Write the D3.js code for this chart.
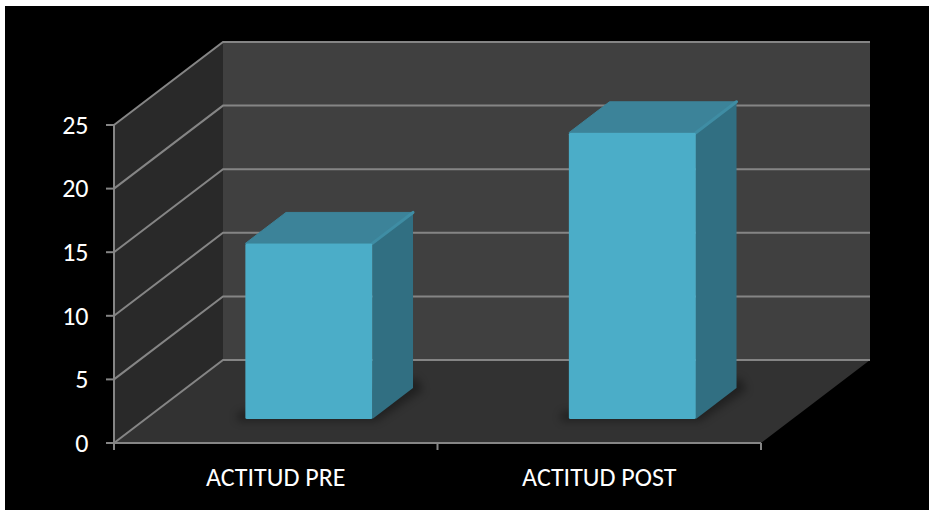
<!DOCTYPE html>
<html>
<head>
<meta charset="utf-8">
<script src="https://cdn.jsdelivr.net/npm/d3@7"></script>
<style>
  html, body { margin: 0; padding: 0; background: #fff; }
  svg { display: block; }
  text { font-family: Carlito, "Open Sans", "Noto Sans", sans-serif; fill: #fff; }
</style>
</head>
<body>
<script>
const categories = ["ACTITUD PRE", "ACTITUD POST"];
const values = [13.8, 22.5];
const yTicks = [0, 5, 10, 15, 20, 25];

const width = 929, height = 510;
const svg = d3.select("body").append("svg").attr("width", width).attr("height", height);

// Oblique projection: depth 0 is the front of the floor, depth 1 the back wall.
const skewX = 109, skewY = -83;
const project = (x, y, d) => [x + d * skewX, y + d * skewY];
const poly = pts => "M" + pts.map(p => p.join(",")).join("L") + "Z";

const x = d3.scaleBand().domain(categories).range([114, 761]);
const y = d3.scaleLinear().domain([0, 25]).range([443, 125]);
const barWidth = 127, barNudge = 1.5;
const barNear = 0.29, barFar = 0.663;

const defs = svg.append("defs");
defs.append("filter").attr("id", "floorShadow")
  .attr("x", "-20%").attr("y", "-20%").attr("width", "140%").attr("height", "140%")
  .append("feGaussianBlur").attr("stdDeviation", 4);

svg.append("rect").attr("x", 5).attr("y", 6).attr("width", width - 5).attr("height", height - 6).attr("fill", "#000");

const [x0, x1] = x.range();
const [y0, y25] = y.range();

// Walls and floor
svg.append("path").attr("fill", "#292929")
  .attr("d", poly([[x0, y0], [x0, y25], project(x0, y25, 1), project(x0, y0, 1)]));
svg.append("path").attr("fill", "#404040")
  .attr("d", poly([project(x0, y25, 1), project(x1, y25, 1), project(x1, y0, 1), project(x0, y0, 1)]));
svg.append("path").attr("fill", "#323232")
  .attr("d", poly([[x0, y0], [x1, y0], project(x1, y0, 1), project(x0, y0, 1)]));

// Gridlines run along the side wall, then across the back wall
const grid = svg.append("g").attr("fill", "none").attr("stroke", "#858585").attr("stroke-width", 2);
yTicks.forEach(t => {
  const a = [x0, y(t)], b = project(x0, y(t), 1), c = project(x1, y(t), 1);
  grid.append("path").attr("d", "M" + [a, b, c].map(p => p.join(",")).join("L"));
});

// Axis lines and tick marks
const axes = svg.append("g").attr("stroke", "#858585").attr("stroke-width", 2).attr("fill", "none");
axes.append("line").attr("x1", x0).attr("x2", x0).attr("y1", y25).attr("y2", y0 + 7);
axes.append("line").attr("x1", x0).attr("x2", x1).attr("y1", y0).attr("y2", y0);
yTicks.forEach(t => axes.append("line").attr("x1", x0 - 8).attr("x2", x0).attr("y1", y(t)).attr("y2", y(t)));
[x0, x0 + x.bandwidth(), x1].forEach(v => axes.append("line").attr("x1", v).attr("x2", v).attr("y1", y0).attr("y2", y0 + 7));

// Tick labels
svg.append("g").selectAll("text").data(yTicks).join("text")
  .attr("x", x0 - 25.5).attr("y", d => y(d)).attr("dy", "0.34em")
  .attr("text-anchor", "end").attr("font-size", 26).text(d => d);
svg.append("g").selectAll("text").data(categories).join("text")
  .attr("x", d => x(d) + x.bandwidth() / 2).attr("y", 486)
  .attr("text-anchor", "middle").attr("font-size", 26).text(d => d);

// Bars
const bars = svg.append("g");
categories.forEach((c, i) => {
  const left = x(c) + (x.bandwidth() - barWidth) / 2 + barNudge;
  const right = left + barWidth;
  const v = values[i];
  const fb = project(left, y(0), barNear), fbr = project(right, y(0), barNear);
  const bbr = project(right, y(0), barFar);
  const ft = project(left, y(v), barNear), ftr = project(right, y(v), barNear);
  const bt = project(left, y(v), barFar), btr = project(right, y(v), barFar);

  // Soft contact shadow on the floor
  bars.append("path").attr("fill", "#000").attr("opacity", 0.35).attr("filter", "url(#floorShadow)")
    .attr("d", poly([[fb[0] - 8, fb[1] - 6], [fb[0] - 8, fb[1] + 2], [fbr[0] + 4, fbr[1] + 2], [bbr[0] + 10, bbr[1] + 2], [bbr[0] + 4, bbr[1] - 10]]));

  bars.append("path").attr("fill", "#316f82").attr("d", poly([ftr, btr, bbr, fbr]));
  bars.append("path").attr("fill", "#3c8399").attr("stroke", "#3c8399").attr("stroke-width", 1).attr("stroke-linejoin", "round")
    .attr("d", poly([ft, bt, btr, ftr]));
  bars.append("path").attr("fill", "none").attr("stroke", "#3f8da4").attr("stroke-width", 3).attr("stroke-linecap", "round")
    .attr("d", "M" + [ftr, btr].map(p => p.join(",")).join("L"));
  bars.append("rect").attr("x", ft[0]).attr("y", ft[1]).attr("width", barWidth).attr("height", fb[1] - ft[1])
    .attr("rx", 1.5).attr("fill", "#4badc8");
});
</script>
</body>
</html>
